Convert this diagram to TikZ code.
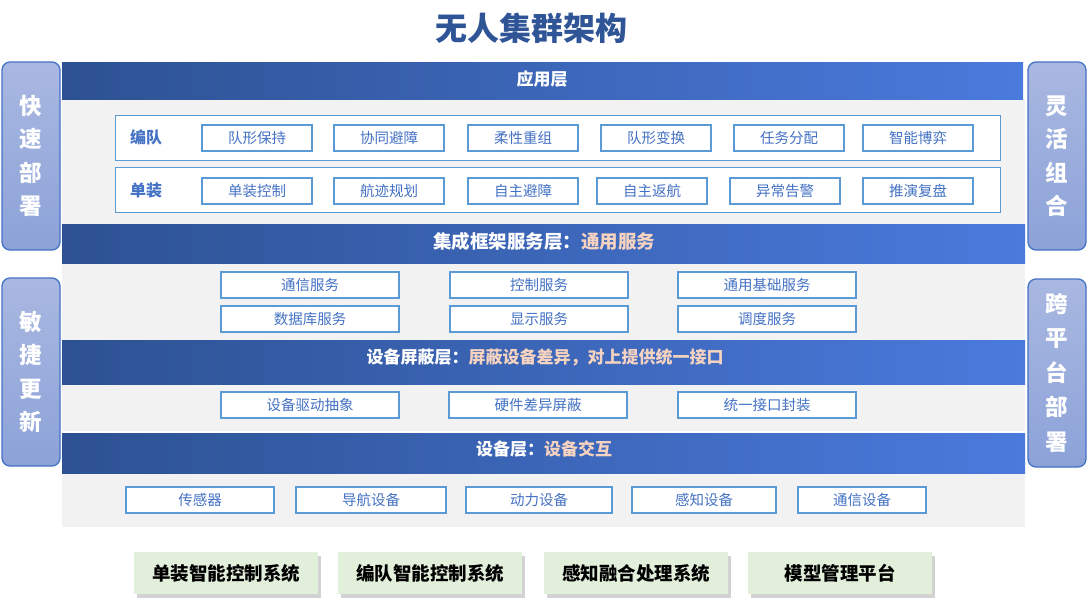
\documentclass[tikz,border=0pt]{standalone}
\usepackage{fontspec}
\setmainfont{Noto Sans CJK SC}
\usetikzlibrary{shadows}

\definecolor{titleblue}{HTML}{2F5597}
\definecolor{bandL}{HTML}{2D5192}
\definecolor{bandR}{HTML}{4A7ADD}
\definecolor{panelgray}{HTML}{F2F2F2}
\definecolor{itemline}{HTML}{5B9BD5}
\definecolor{itemtext}{HTML}{4472C4}
\definecolor{peach}{HTML}{F6D3C0}
\definecolor{sideT}{HTML}{A9B8E1}
\definecolor{sideB}{HTML}{8CA2D8}
\definecolor{sideline}{HTML}{4472C4}
\definecolor{sysgreen}{HTML}{E2EFDA}

\tikzset{
  band/.style={left color=bandL, right color=bandR, draw=none},
  bandtext/.style={text=white, font=\fontsize{17}{17}\selectfont\bfseries},
  panel/.style={fill=panelgray, draw=none},
  rowbox/.style={draw=itemline, line width=1pt, fill=white},
  rowlabel/.style={text=itemtext, font=\fontsize{16}{16}\selectfont\bfseries},
  item/.style={draw=itemline, line width=1.2pt, fill=white, inner sep=0pt,
    minimum height=26pt, text=itemtext, font=\fontsize{14.5}{14.5}\selectfont},
  sidebox/.style={draw=sideline, line width=1.3pt, rounded corners=8pt,
    top color=sideT, bottom color=sideB, minimum width=58pt, minimum height=188pt,
    text=white, align=center, font=\fontsize{22.5}{33.5}\selectfont\bfseries},
  sysbox/.style={fill=sysgreen, minimum width=184pt, minimum height=42pt,
    drop shadow={shadow xshift=3pt, shadow yshift=-4pt, fill=black!35},
    font=\fontsize{18.5}{18.5}\selectfont\bfseries}
}

\begin{document}
\begin{tikzpicture}[x=1pt, y=-1pt]
  %%%%% START %%%%%
  \useasboundingbox (0,0) rectangle (1088,606);

  \node[text=titleblue, font=\fontsize{32}{32}\selectfont\bfseries] (title) at (531,28) {无人集群架构};

  % side boxes
  \node[sidebox] (fast) at (31,156) {快\\速\\部\\署};
  \node[sidebox] (agile) at (31,372) {敏\\捷\\更\\新};
  \node[sidebox] (flex) at (1057,156) {灵\\活\\组\\合};
  \node[sidebox, font=\fontsize{22.5}{34.5}\selectfont\bfseries] (cross) at (1057,373) {跨\\平\\台\\部\\署};

  % gray panels
  \fill[panel] (62,99) rectangle (1025,224);
  \fill[panel] (62,263) rectangle (1025,340);
  \fill[panel] (62,384) rectangle (1025,431);
  \fill[panel] (62,473) rectangle (1025,527);

  % layer bands
  \fill[band] (62,62) rectangle (1023,99);
  \node[bandtext] (app) at (542,79) {应用层};

  \fill[band] (62,224) rectangle (1025,263);
  \node[bandtext, font=\fontsize{18.5}{18.5}\selectfont\bfseries] (frame) at (544,241) {集成框架服务层：\textcolor{peach}{通用服务}};

  \fill[band] (62,340) rectangle (1025,384);
  \node[bandtext] (shield) at (545,357) {设备屏蔽层：\textcolor{peach}{屏蔽设备差异，对上提供统一接口}};

  \fill[band] (62,433) rectangle (1025,473);
  \node[bandtext] (dev) at (544,449) {设备层：\textcolor{peach}{设备交互}};

  % application rows
  \draw[rowbox] (115,115) rectangle (1000,160);
  \draw[rowbox] (115,167) rectangle (1000,212);
  \node[rowlabel] (team) at (146,137) {编队};
  \node[rowlabel] (single) at (146,190) {单装};

  \foreach \x/\t [count=\i] in {257/队形保持, 389/协同避障, 523/柔性重组,
      656/队形变换, 789/任务分配, 918/智能博弈}
    \node[item, minimum width=110pt] (team\i) at (\x,138) {\t};
  \foreach \x/\t [count=\i] in {257/单装控制, 389/航迹规划, 523/自主避障,
      652/自主返航, 785/异常告警, 918/推演复盘}
    \node[item, minimum width=110pt] (single\i) at (\x,191) {\t};

  % framework services
  \foreach \x/\a/\b [count=\i] in {310/通信服务/数据库服务, 539/控制服务/显示服务,
      767/通用基础服务/调度服务} {
    \node[item, minimum width=178pt] (svcA\i) at (\x,285) {\a};
    \node[item, minimum width=178pt] (svcB\i) at (\x,319) {\b};
  }

  % device shield
  \foreach \x/\t [count=\i] in {310/设备驱动抽象, 538/硬件差异屏蔽, 767/统一接口封装}
    \node[item, minimum width=178pt] (shd\i) at (\x,405) {\t};

  % devices
  \foreach \x/\w/\t [count=\i] in {200/148/传感器, 371/150/导航设备, 539/146/动力设备,
      704/144/感知设备, 862/128/通信设备}
    \node[item, minimum width=\w pt] (dv\i) at (\x,500) {\t};

  % systems
  \foreach \x/\t [count=\i] in {226/单装智能控制系统, 430/编队智能控制系统,
      636/感知融合处理系统, 840/模型管理平台}
    \node[sysbox] (sys\i) at (\x,573) {\t};
  %%%%% END %%%%%
\end{tikzpicture}
\end{document}
